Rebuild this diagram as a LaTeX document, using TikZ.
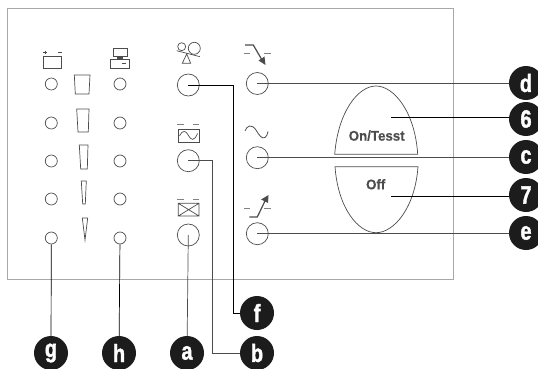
\documentclass[tikz,border=0pt]{standalone}
\usepackage{graphicx}
\usepackage{fontspec}
\setmainfont{Liberation Sans}
\newfontfamily\badgefont[FakeBold=1.5,FakeStretch=.8]{Liberation Sans Bold}
\newfontfamily\keyfont[FakeBold=.4,FakeStretch=.95]{Liberation Sans Bold}
\definecolor{ink}{gray}{.3}
\definecolor{badgeblack}{gray}{.11}
\definecolor{framegray}{gray}{.66}
\tikzset{
  x=1pt,y=-1pt,
  led/.style={circle,draw=ink,line width=.7pt,minimum size=12pt,inner sep=0pt},
  btn/.style={circle,draw=ink,line width=.7pt,minimum size=22pt,inner sep=0pt},
  badge/.style={circle,fill=badgeblack,minimum size=34pt,inner sep=0pt,text=white,font=\fontsize{25}{25}\badgefont},
  leader/.style={draw=ink,line width=.7pt},
  blackleader/.style={draw=black,line width=.7pt},
  icon/.style={draw=ink,line width=.7pt},
  dashbit/.style={draw=ink!70,line width=.6pt},
  heavyline/.style={draw=ink,line width=1.2pt},
  lbl/.style={text=ink,font=\fontsize{14}{14}\keyfont,inner sep=0pt},
}
\begin{document}
\begin{tikzpicture}
\useasboundingbox (0,0) rectangle (538,369);
\clip (0,0) rectangle (538,369);
% panel
\draw[framegray,line width=.9pt] (7,8) rectangle (453.7,279.5);
% LEDs
\foreach \n/\y in {1/84,2/123,3/161,4/199,5/238}{
  \node[led] (g\n) at (51.3,\y) {};
  \node[led] (h\n) at (120,\y) {};
}
% level bars
\draw[icon] (74.3,75) -- (90,75) -- (89,94) -- (75.3,94) -- cycle;
\draw[icon] (76.7,109) -- (89,109) -- (88.3,132) -- (78,132) -- cycle;
\draw[icon] (79.3,145) -- (88,145) -- (87.3,169) -- (80.7,169) -- cycle;
\draw[icon] (81.3,181) -- (86.3,181) -- (85.3,204) -- (82.7,204) -- cycle;
\draw[icon] (82.3,218) -- (87.7,218) -- (85,240) -- cycle;
% battery icon
\draw[icon] (43.3,56.7) rectangle (61.7,68.3);
\draw[icon] (43.2,52.7) -- (46.8,52.7) (45,51) -- (45,54.4);
\draw[icon] (58,52.7) -- (62,52.7);
% computer icon
\draw[icon] (113,48.3) rectangle (127,56);
\fill[ink] (116.7,56) rectangle (123.3,59.3);
\draw[icon] (110.7,59.3) rectangle (129.3,68.3);
\draw[icon] (121.7,63.7) -- (126,63.7);
% tape icon
\draw[icon] (181.7,46.7) circle (4);
\draw[icon] (194.3,48.3) circle (6);
\draw[icon] (176.7,50.7) -- (200,56.7);
\draw[icon] (186.7,54) -- (182.3,63.3) -- (190.7,63.3) -- cycle;
% sine box icon
\draw[dashbit] (177.3,124.7) -- (184,124.7) (192.7,124.7) -- (199.3,124.7);
\draw[icon] (178,129.3) rectangle (199,142);
\draw[icon] (179.5,136) .. controls (183,129) and (186,131) .. (188.5,135.5) .. controls (191,140) and (194,142) .. (197.5,133.5);
% cross box icon
\draw[dashbit] (177.3,199.3) -- (184,199.3) (192.7,199.3) -- (199.3,199.3);
\draw[icon] (178.3,203.3) rectangle (199,216) (178.3,203.3) -- (199,216) (178.3,216) -- (199,203.3);
% arrow d icon
\draw[dashbit] (244,53) -- (250,53) (264.3,53) -- (270.7,53);
\draw[heavyline] (245,45) -- (253.3,45) -- (262,60);
\fill[ink] (265.5,65) -- (258.5,60.5) -- (264.5,56.5) -- cycle;
% wave icon
\draw[icon,line width=.8pt] (245,131) .. controls (247,125) and (252,124) .. (256,130) .. controls (259,135) and (262,139.5) .. (265,137.5) .. controls (266.5,136.5) and (267.5,134.5) .. (268,131.5);
% arrow e icon
\draw[dashbit] (244,208.3) -- (250,208.3) (264.3,208.3) -- (270.7,208.3);
\draw[heavyline] (249.3,217) -- (257.3,217) -- (265,201);
\fill[ink] (268.5,195) -- (261,199.5) -- (268,203) -- cycle;
% buttons
\node[btn] (tape) at (188.3,85) {};
\node[btn] (sine) at (188.3,160.7) {};
\node[btn] (cross) at (188.3,235) {};
\node[btn] (bd) at (257.3,83.5) {};
\node[btn] (bc) at (257.3,157.7) {};
\node[btn] (be) at (257.3,233.7) {};
% on / off keys
\draw[icon] (334.7,154.3) .. controls (338,112) and (358,86) .. (376,86) .. controls (394,86) and (415,112) .. (417.7,154.3) -- cycle;
\draw[icon] (335,166.7) .. controls (338,208) and (358,232.7) .. (376,232.7) .. controls (394,232.7) and (415,208) .. (418,166.7) -- cycle;
\node[lbl] (ontest) at (376.7,135.7) {On/Tesst};
\node[lbl] (off) at (375.7,184.3) {Off};
% badges
\node[badge] (d) at (526,83) {d};
\node[badge] (six) at (526,119) {6};
\node[badge] (c) at (526,157) {c};
\node[badge] (seven) at (526,195) {7};
\node[badge] (e) at (526,233) {e};
\node[badge] (bg) at (51,353) {g};
\node[badge] (bh) at (119,353) {h};
\node[badge] (ba) at (187,353) {a};
\node[badge] (bb) at (257,353) {b};
\node[badge] (bf) at (257,313) {f};
% free ends and bends
\coordinate (k6) at (391,117);
\coordinate (k7) at (391,196);
\coordinate (kf) at (233.3,313);
\coordinate (kb) at (212.3,353);
% connectors
\draw[leader] (bd.center) -- (d.west |- bd.center);
\draw[leader] (bc.center) -- (c.west |- bc.center);
\draw[leader] (be.center) -- (e.west |- be.center);
\draw[blackleader] (k6) -- (six.west |- k6);
\draw[blackleader] (k7) -- (seven.west |- k7);
\draw[blackleader] (tape.center) -| (kf) -- (bf);
\draw[leader] (sine.center) -| (kb) -- (bb);
\draw[leader] (cross.center) -- (ba);
\draw[blackleader] (g5) -- (bg);
\draw[blackleader] (h5) -- (bh);
\end{tikzpicture}
\end{document}
